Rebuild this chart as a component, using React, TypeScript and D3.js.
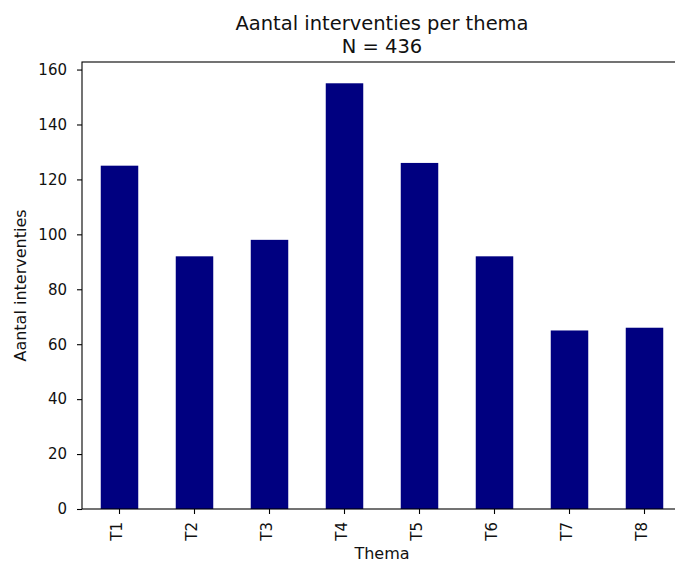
import React, { useEffect, useRef } from 'react';
import * as d3 from 'd3';

const themes: string[] = ['T1', 'T2', 'T3', 'T4', 'T5', 'T6', 'T7', 'T8'];
const counts: number[] = [125, 92, 98, 155, 126, 92, 65, 66];
const yTicks: number[] = [0, 20, 40, 60, 80, 100, 120, 140, 160];
const titleLines: string[] = ['Aantal interventies per thema', 'N = 436'];

const App: React.FC = () => {
    const svgRef = useRef<SVGSVGElement | null>(null);
    const width = 675;
    const height = 562;

    useEffect(() => {
        const margin = { top: 62, right: -7, bottom: 53, left: 82 };
        const font = 'DejaVu Sans, sans-serif';

        const svg = d3.select(svgRef.current)
            .attr('width', width)
            .attr('height', height);

        // Clear previous content
        svg.selectAll('*').remove();

        const xScale = d3.scaleBand<string>()
            .domain(themes)
            .range([margin.left, width - margin.right])
            .paddingInner(0.5)
            .paddingOuter(0.25);

        const yScale = d3.scaleLinear()
            .domain([0, (d3.max(counts) as number) * 1.05])
            .range([height - margin.bottom, margin.top]);

        // Bars
        svg.append('g')
            .selectAll('rect')
            .data(counts)
            .join('rect')
            .attr('x', (_, i) => xScale(themes[i]) as number)
            .attr('y', d => yScale(d))
            .attr('width', xScale.bandwidth())
            .attr('height', d => yScale(0) - yScale(d))
            .attr('fill', '#000080');

        // Axes
        const xAxis = svg.append('g')
            .attr('transform', `translate(0,${height - margin.bottom})`)
            .call(d3.axisBottom(xScale).tickSize(5).tickSizeOuter(0));
        xAxis.select('.domain').remove();
        xAxis.selectAll('.tick line').attr('stroke', '#000').attr('stroke-width', 1.1);
        xAxis.selectAll<SVGTextElement, string>('.tick text')
            .attr('font-family', font)
            .attr('font-size', 15)
            .attr('fill', '#111')
            .attr('text-anchor', 'end')
            .attr('transform', 'translate(2,13) rotate(-90)')
            .attr('x', 0)
            .attr('y', 0)
            .attr('dy', '0.02em');

        const yAxis = svg.append('g')
            .attr('transform', `translate(${margin.left},0)`)
            .call(d3.axisLeft(yScale).tickValues(yTicks).tickSize(5).tickPadding(10));
        yAxis.select('.domain').remove();
        yAxis.selectAll('.tick line').attr('stroke', '#000').attr('stroke-width', 1.1);
        yAxis.selectAll('.tick text')
            .attr('font-family', font)
            .attr('font-size', 15)
            .attr('fill', '#111');

        // Spines
        svg.append('rect')
            .attr('x', margin.left)
            .attr('y', margin.top)
            .attr('width', width - margin.right - margin.left)
            .attr('height', height - margin.bottom - margin.top)
            .attr('fill', 'none')
            .attr('stroke', '#000')
            .attr('stroke-width', 1.1);

        const cx = (margin.left + width - margin.right) / 2;

        // Title
        svg.append('g')
            .selectAll('text')
            .data(titleLines)
            .join('text')
            .attr('x', cx)
            .attr('y', (_, i) => 29.5 + i * 23)
            .attr('text-anchor', 'middle')
            .attr('font-family', font)
            .attr('font-size', 19.5)
            .attr('fill', '#111')
            .text(d => d);

        // Axis labels
        svg.append('text')
            .attr('x', cx)
            .attr('y', 559)
            .attr('text-anchor', 'middle')
            .attr('font-family', font)
            .attr('font-size', 16)
            .attr('fill', '#111')
            .text('Thema');

        svg.append('text')
            .attr('transform', `translate(26,${(margin.top + height - margin.bottom) / 2}) rotate(-90)`)
            .attr('text-anchor', 'middle')
            .attr('font-family', font)
            .attr('font-size', 16)
            .attr('fill', '#111')
            .text('Aantal interventies');
    }, []);

    return (
        <svg
            ref={svgRef}
            style={{ position: 'absolute', left: 0, top: 0, background: '#fff' }}
        ></svg>
    );
};

export default App;
